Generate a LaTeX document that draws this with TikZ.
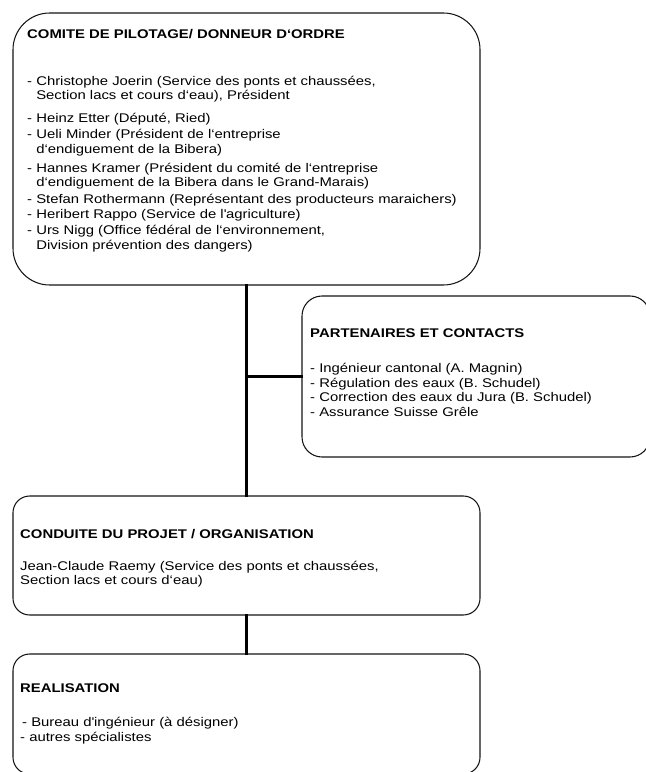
\documentclass[tikz,border=0pt]{standalone}
\usepackage{fontspec}
\setmainfont{Liberation Sans}[FakeStretch=1.18]
\usepackage{tikz}
\usetikzlibrary{positioning,calc}
\definecolor{boxline}{RGB}{20,20,20}
\newcommand{\contline}{\phantom{-~}}

\begin{document}
\begin{tikzpicture}[
    orgbox/.style={rectangle, draw=boxline, line width=0.9pt, minimum width=14.01cm, inner sep=0pt},
    boxtext/.style={anchor=north west, inner sep=0pt, align=left, font=\fontsize{10.75}{12.4}\selectfont},
    link/.style={line width=2.8pt, line cap=rect}
]
    \useasboundingbox (0,0) rectangle (19.38,-23.16);

    % Comite de pilotage
    \node[orgbox, rounded corners=1.1cm, minimum height=8.16cm] (comite) at (7.395,-4.47) {};
    \node[boxtext] (comitetext) at (0.81,-0.86) {\textbf{COMITE DE PILOTAGE/ DONNEUR D‘ORDRE}\\[27.7pt]
        - Christophe Joerin (Service des ponts et chaussées,\\
        \contline Section lacs et cours d‘eau), Président\\[7.2pt]
        - Heinz Etter (Député, Ried)\\[1.3pt]
        - Ueli Minder (Président de l‘entreprise\\
        \contline d‘endiguement de la Bibera)\\[3.8pt]
        - Hannes Kramer (Président du comité de l‘entreprise\\
        \contline d‘endiguement de la Bibera dans le Grand-Marais)\\[2.1pt]
        - Stefan Rothermann (Représentant des producteurs maraichers)\\[0.4pt]
        - Heribert Rappo (Service de l\textquotesingle agriculture)\\[1.3pt]
        - Urs Nigg (Office fédéral de l‘environnement,\\
        \contline Division prévention des dangers)};

    % Partenaires
    \node[orgbox, rounded corners=0.6cm, minimum width=10.44cm, minimum height=4.83cm] (partner) at (14.28,-11.295) {};
    \node[boxtext] (partnertext) at (9.30,-9.86) {\textbf{PARTENAIRES ET CONTACTS}\\[17.5pt]
        - Ingénieur cantonal (A. Magnin)\\
        - Régulation des eaux (B. Schudel)\\
        - Correction des eaux du Jura (B. Schudel)\\
        - Assurance Suisse Grêle};

    % Conduite du projet
    \node[orgbox, rounded corners=0.5cm, minimum height=3.57cm] (conduite) at (7.395,-16.665) {};
    \node[boxtext] (conduitetext) at (0.60,-15.86) {\textbf{CONDUITE DU PROJET / ORGANISATION}\\[14.9pt]
        Jean-Claude Raemy (Service des ponts et chaussées,\\
        Section lacs et cours d‘eau)};

    % Realisation
    \node[orgbox, rounded corners=0.5cm, minimum height=3.6cm] (realis) at (7.395,-21.42) {};
    \node[boxtext] (realistext) at (0.60,-20.51) {\textbf{REALISATION}\\[16.6pt]
        \hspace*{0.06cm}- Bureau d\textquotesingle ingénieur (à désigner)\\
        - autres spécialistes};

    % Links
    \draw[link] (comite.south) -- (conduite.north);
    \draw[link] (partner.west) -- (partner.west -| comite.south);
    \draw[link] (conduite.south) -- (realis.north);
\end{tikzpicture}
\end{document}
